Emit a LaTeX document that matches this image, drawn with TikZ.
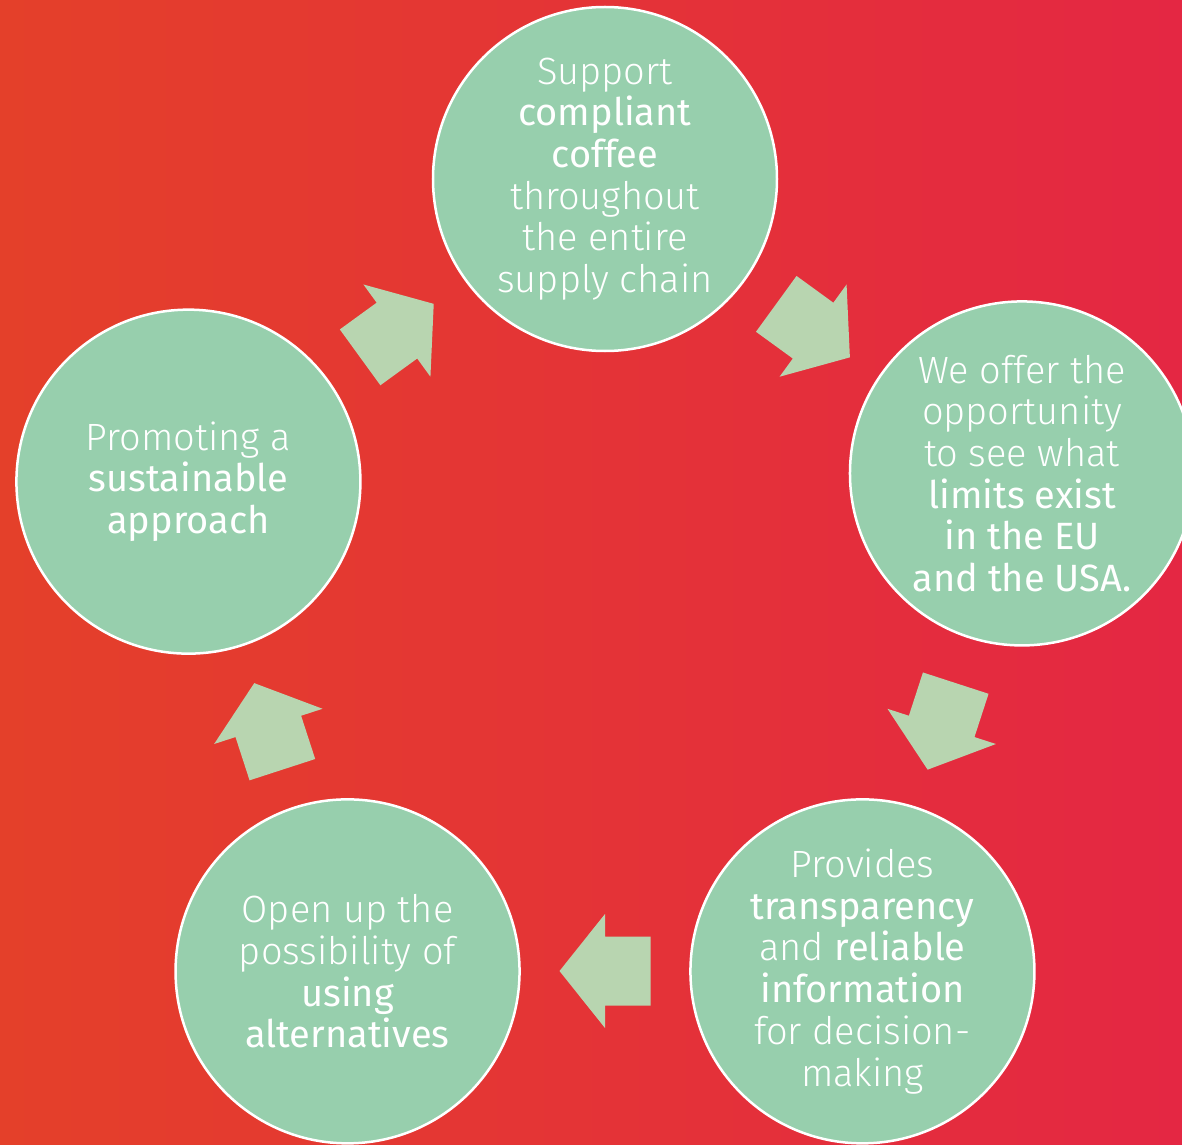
\documentclass[tikz,border=0pt]{standalone}
\usepackage{fontspec}
\setmainfont{Fira Sans Light}[BoldFont={Fira Sans}]

\definecolor{bgleft}{HTML}{E4402A}
\definecolor{bgright}{HTML}{E42743}
\definecolor{stagegreen}{HTML}{97CFAD}
\definecolor{flowgreen}{HTML}{B8D5B0}

\tikzset{
    stage/.style={circle, draw=white, line width=2.5pt, fill=stagegreen, minimum size=344pt, inner sep=0pt,
        align=center, text=white, font={\fontsize{38}{41.7}\selectfont}},
    pics/flow/.style={code={
        \fill[flowgreen] (-45.5,-34.5) -- (0,-34.5) -- (0,-57) -- (45.5,0) -- (0,57) -- (0,34.5) -- (-45.5,34.5) -- cycle;
    }},
}

\begin{document}
\begin{tikzpicture}[x=1pt, y=1pt]
        \coordinate (hub) at (0,0);
        \coordinate (frameSW) at (-605,-527);
        \coordinate (frameNE) at (577,617);
        \useasboundingbox (frameSW) rectangle (frameNE);
        \shade[left color=bgleft, right color=bgright] (frameSW) rectangle (frameNE);

        \node [stage] (support) at (90:438) {Support\\\textbf{compliant}\\\textbf{coffee}\\throughout\\the entire\\supply chain};
        \node [stage] (limits) at (19:441) {We offer the\\opportunity\\to see what\\\textbf{limits exist}\\\textbf{in the EU}\\\textbf{and the USA.}};
        \node [stage] (transparency) at (-54:438) {Provides\\\textbf{transparency}\\and \textbf{reliable}\\\textbf{information}\\for decision-\\making};
        \node [stage] (alternatives) at (-126:438) {Open up the\\possibility of\\\textbf{using}\\\textbf{alternatives}};
        \node [stage] (sustainable) at (162:438) {Promoting a\\\textbf{sustainable}\\\textbf{approach}};

        % arrows between the stages
        \pic [rotate=36] (flow_sustainable) at (126:354) {flow};
        \pic [rotate=-36] (flow_support) at (54:354) {flow};
        \pic [rotate=-108] (flow_limits) at (-18:354) {flow};
        \pic [rotate=180] (flow_transparency) at (-90:354) {flow};
        \pic [rotate=108] (flow_alternatives) at (198:354) {flow};
    \end{tikzpicture}
\end{document}
